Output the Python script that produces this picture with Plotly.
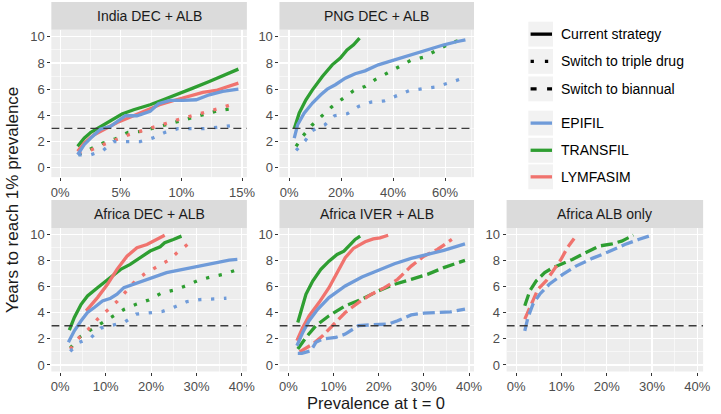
import plotly.graph_objects as go

# ---------------- DATA ----------------
# India DEC + ALB
india_epifil_cur_x = [0.0144, 0.0198, 0.0266, 0.0334, 0.0416, 0.047, 0.0538, 0.0633, 0.0742, 0.081, 0.0905, 0.1014, 0.1122, 0.123, 0.134, 0.147]
india_epifil_cur_y = [0.99, 1.76, 2.39, 2.95, 3.16, 3.54, 3.97, 3.97, 4.30, 4.89, 5.14, 5.14, 5.19, 5.57, 5.83, 6.01]
india_transfil_cur_x = [0.0144, 0.0198, 0.0253, 0.0334, 0.0416, 0.051, 0.0606, 0.0742, 0.085, 0.0986, 0.1095, 0.123, 0.137, 0.147]
india_transfil_cur_y = [1.63, 2.26, 2.70, 3.16, 3.59, 4.10, 4.43, 4.81, 5.19, 5.65, 6.08, 6.59, 7.10, 7.53]
india_lymfasim_cur_x = [0.0144, 0.02, 0.028, 0.036, 0.047, 0.058, 0.0688, 0.082, 0.0959, 0.1068, 0.1177, 0.1285, 0.1394, 0.147]
india_lymfasim_cur_y = [1.25, 1.90, 2.52, 2.90, 3.46, 3.87, 4.30, 4.81, 5.19, 5.45, 5.75, 5.90, 6.26, 6.46]
india_epifil_tri_x = [0.015, 0.0253, 0.0353, 0.044, 0.055, 0.066, 0.076, 0.0865, 0.097, 0.108, 0.118, 0.129, 0.140]
india_epifil_tri_y = [0.99, 0.99, 1.32, 2.00, 2.00, 2.00, 2.26, 2.70, 2.98, 2.98, 2.98, 3.08, 3.20]
india_transfil_tri_x = [0.015, 0.0253, 0.0353, 0.0457, 0.056, 0.0666, 0.0772, 0.0878, 0.098, 0.109, 0.119, 0.130, 0.141]
india_transfil_tri_y = [0.99, 1.42, 1.88, 2.21, 2.70, 2.77, 3.03, 3.33, 3.59, 3.84, 4.05, 4.35, 4.50]
india_lymfasim_tri_x = [0.015, 0.0253, 0.0353, 0.0457, 0.056, 0.0666, 0.0772, 0.0878, 0.098, 0.109, 0.119, 0.130, 0.141]
india_lymfasim_tri_y = [1.10, 1.35, 1.76, 2.14, 2.50, 2.80, 3.08, 3.40, 3.70, 3.97, 4.20, 4.50, 4.81]

# PNG DEC + ALB
png_epifil_cur_x = [0.02, 0.033, 0.058, 0.09, 0.122, 0.147, 0.178, 0.216, 0.254, 0.292, 0.343, 0.406, 0.47, 0.533, 0.596, 0.647, 0.678]
png_epifil_cur_y = [2.26, 3.28, 4.17, 4.94, 5.57, 6.00, 6.34, 6.84, 7.18, 7.40, 7.86, 8.24, 8.63, 9.06, 9.39, 9.64, 9.77]
png_transfil_cur_x = [0.02, 0.039, 0.065, 0.09, 0.128, 0.166, 0.197, 0.223, 0.248, 0.271]
png_transfil_cur_y = [2.98, 4.17, 5.19, 5.95, 6.97, 7.86, 8.37, 9.00, 9.39, 9.90]
png_epifil_tri_x = [0.027, 0.062, 0.09, 0.138, 0.175, 0.224, 0.267, 0.315, 0.366, 0.413, 0.461, 0.511, 0.562, 0.611, 0.659]
png_epifil_tri_y = [1.32, 2.06, 2.85, 3.28, 3.97, 4.12, 4.68, 5.01, 5.11, 5.50, 5.88, 6.03, 6.16, 6.46, 6.77]
png_transfil_tri_x = [0.027, 0.054, 0.087, 0.125, 0.163, 0.204, 0.248, 0.292, 0.334, 0.378, 0.423, 0.467, 0.518, 0.562, 0.609, 0.657]
png_transfil_tri_y = [1.63, 2.44, 3.23, 3.92, 4.63, 5.24, 5.88, 6.21, 6.77, 7.23, 7.74, 8.19, 8.45, 8.88, 9.39, 9.77]

# Africa DEC + ALB
afdec_epifil_cur_x = [0.018, 0.031, 0.046, 0.06, 0.075, 0.093, 0.111, 0.125, 0.14, 0.162, 0.183, 0.212, 0.234, 0.27, 0.307, 0.343, 0.372, 0.39]
afdec_epifil_cur_y = [1.73, 2.61, 3.38, 4.01, 4.39, 4.90, 5.10, 5.41, 5.91, 6.17, 6.42, 6.80, 7.06, 7.31, 7.56, 7.82, 8.02, 8.07]
afdec_transfil_cur_x = [0.02, 0.031, 0.046, 0.06, 0.082, 0.096, 0.111, 0.133, 0.154, 0.176, 0.198, 0.22, 0.23, 0.249, 0.267]
afdec_transfil_cur_y = [2.66, 3.63, 4.64, 5.28, 5.91, 6.29, 6.73, 7.31, 7.69, 8.20, 8.71, 9.04, 9.34, 9.59, 9.85]
afdec_lymfasim_cur_x = [0.057, 0.082, 0.104, 0.125, 0.147, 0.169, 0.191, 0.212, 0.23]
afdec_lymfasim_cur_y = [4.14, 5.15, 6.17, 7.31, 8.32, 8.96, 9.21, 9.59, 9.92]
afdec_epifil_tri_x = [0.022, 0.042, 0.067, 0.089, 0.116, 0.143, 0.167, 0.196, 0.225, 0.252, 0.279, 0.308, 0.337, 0.366]
afdec_epifil_tri_y = [1.04, 1.73, 2.06, 2.82, 3.05, 3.30, 3.88, 4.01, 4.09, 4.44, 4.85, 5.00, 5.03, 5.10]
afdec_transfil_tri_x = [0.022, 0.042, 0.066, 0.09, 0.116, 0.141, 0.167, 0.195, 0.222, 0.249, 0.276, 0.304, 0.332, 0.359, 0.388]
afdec_transfil_tri_y = [1.29, 2.10, 2.66, 3.17, 3.76, 4.26, 4.64, 4.97, 5.48, 5.71, 6.04, 6.47, 6.73, 6.93, 7.26]
afdec_lymfasim_tri_x = [0.022, 0.042, 0.062, 0.082, 0.104, 0.125, 0.146, 0.165, 0.187, 0.212, 0.238, 0.259, 0.283]
afdec_lymfasim_tri_y = [1.22, 2.10, 2.74, 3.50, 4.19, 4.85, 5.66, 6.42, 7.00, 7.49, 8.00, 8.63, 9.29]

# Africa IVER + ALB
afiver_epifil_cur_x = [0.019, 0.032, 0.046, 0.065, 0.09, 0.126, 0.163, 0.199, 0.235, 0.272, 0.308, 0.344, 0.391]
afiver_epifil_cur_y = [1.47, 2.49, 3.38, 4.26, 5.15, 6.04, 6.73, 7.23, 7.74, 8.15, 8.45, 8.76, 9.26]
afiver_transfil_cur_x = [0.021, 0.028, 0.039, 0.054, 0.072, 0.09, 0.108, 0.123, 0.134, 0.148, 0.159]
afiver_transfil_cur_y = [3.25, 4.14, 5.40, 6.42, 7.31, 7.94, 8.45, 8.70, 9.09, 9.60, 9.85]
afiver_lymfasim_cur_x = [0.019, 0.032, 0.046, 0.068, 0.09, 0.108, 0.126, 0.144, 0.17, 0.188, 0.203, 0.221]
afiver_lymfasim_cur_y = [1.85, 2.87, 3.76, 4.77, 5.91, 7.06, 8.20, 8.91, 9.42, 9.64, 9.72, 9.92]
afiver_epifil_bi_x = [0.021, 0.03, 0.05, 0.061, 0.076, 0.105, 0.126, 0.155, 0.184, 0.221, 0.242, 0.272, 0.30, 0.33, 0.359, 0.391]
afiver_epifil_bi_y = [0.89, 0.89, 1.09, 1.73, 1.98, 2.10, 2.36, 3.00, 3.07, 3.12, 3.38, 3.83, 3.96, 3.98, 4.06, 4.26]
afiver_transfil_bi_x = [0.021, 0.039, 0.061, 0.09, 0.126, 0.163, 0.199, 0.235, 0.272, 0.308, 0.344, 0.391]
afiver_transfil_bi_y = [1.22, 2.10, 3.00, 3.76, 4.52, 5.03, 5.66, 6.17, 6.55, 6.93, 7.44, 8.00]
afiver_lymfasim_bi_x = [0.025, 0.036, 0.054, 0.076, 0.097, 0.126, 0.155, 0.184, 0.213, 0.242, 0.272, 0.30, 0.33, 0.362]
afiver_lymfasim_bi_y = [1.00, 1.22, 1.60, 2.23, 3.00, 4.01, 4.77, 5.41, 5.91, 6.55, 7.56, 8.32, 8.83, 9.60]

# Africa ALB only
afalb_epifil_bi_x = [0.019, 0.026, 0.037, 0.052, 0.073, 0.103, 0.132, 0.168, 0.204, 0.24, 0.27, 0.299]
afalb_epifil_bi_y = [2.61, 3.63, 4.64, 5.41, 6.17, 6.93, 7.56, 8.15, 8.65, 9.21, 9.59, 9.92]
afalb_transfil_bi_x = [0.019, 0.03, 0.044, 0.063, 0.081, 0.099, 0.124, 0.153, 0.183, 0.212, 0.233, 0.259]
afalb_transfil_bi_y = [4.52, 5.66, 6.42, 7.06, 7.44, 7.69, 8.07, 8.58, 9.09, 9.26, 9.47, 9.92]
afalb_lymfasim_bi_x = [0.019, 0.033, 0.048, 0.066, 0.081, 0.099, 0.113, 0.128]
afalb_lymfasim_bi_y = [3.50, 4.64, 5.79, 6.42, 7.18, 8.07, 8.96, 9.67]

panel_titles = ["India DEC + ALB", "PNG DEC + ALB", "Africa DEC + ALB", "Africa IVER + ALB", "Africa ALB only"]
threshold_years = 3
y_ticks = [0, 2, 4, 6, 8, 10]
x_ticks_india = [0, 0.05, 0.10, 0.15]
x_ticks_png = [0, 0.2, 0.4, 0.6]
x_ticks_africa = [0, 0.1, 0.2, 0.3, 0.4]
strategy_labels = ["Current strategy", "Switch to triple drug", "Switch to biannual"]
model_labels = ["EPIFIL", "TRANSFIL", "LYMFASIM"]

# ---------------- STYLE ----------------
W, H = 721, 414
BLUE, GREEN, RED = "#6F9BD9", "#2E9E31", "#F0736E"
PANEL_BG, STRIP_BG = "#EDEDED", "#DBDBDB"
FONT = "Liberation Sans, Arial, sans-serif"
LW = 3.3
DASH = {"cur": "solid", "tri": "3.3px,9.6px", "bi": "12px,5px"}
COLOR = {"epifil": BLUE, "transfil": GREEN, "lymfasim": RED}


def fx(p):
    return p / W


def fy(p):
    return 1 - p / H


# panel pixel geometry: (left, right, top(plot), bottom(plot))
geom = {
    1: (52, 250, 29, 177),
    2: (283, 480, 29, 177),
    3: (52, 250, 228, 372.3),
    4: (283, 480, 228, 372.3),
    5: (513, 712, 228, 372.3),
}
xranges = {1: [-0.0073, 0.154], 2: [-0.0368, 0.711], 3: [-0.0196, 0.411], 4: [-0.0196, 0.411], 5: [-0.0212, 0.413]}
yr_top, yr_bot = [-0.72, 10.53], [-0.5, 10.48]
xticks = {1: x_ticks_india, 2: x_ticks_png, 3: x_ticks_africa, 4: x_ticks_africa, 5: x_ticks_africa}
xminor = {1: [0.025, 0.075, 0.125], 2: [0.1, 0.3, 0.5, 0.7], 3: [0.05, 0.15, 0.25, 0.35],
          4: [0.05, 0.15, 0.25, 0.35], 5: [0.05, 0.15, 0.25, 0.35]}

series = [
    # panel, model, strategy, x, y
    (1, "transfil", "tri", india_transfil_tri_x, india_transfil_tri_y),
    (1, "lymfasim", "tri", india_lymfasim_tri_x, india_lymfasim_tri_y),
    (1, "epifil", "tri", india_epifil_tri_x, india_epifil_tri_y),
    (1, "transfil", "cur", india_transfil_cur_x, india_transfil_cur_y),
    (1, "lymfasim", "cur", india_lymfasim_cur_x, india_lymfasim_cur_y),
    (1, "epifil", "cur", india_epifil_cur_x, india_epifil_cur_y),
    (2, "transfil", "tri", png_transfil_tri_x, png_transfil_tri_y),
    (2, "epifil", "tri", png_epifil_tri_x, png_epifil_tri_y),
    (2, "transfil", "cur", png_transfil_cur_x, png_transfil_cur_y),
    (2, "epifil", "cur", png_epifil_cur_x, png_epifil_cur_y),
    (3, "transfil", "tri", afdec_transfil_tri_x, afdec_transfil_tri_y),
    (3, "lymfasim", "tri", afdec_lymfasim_tri_x, afdec_lymfasim_tri_y),
    (3, "epifil", "tri", afdec_epifil_tri_x, afdec_epifil_tri_y),
    (3, "transfil", "cur", afdec_transfil_cur_x, afdec_transfil_cur_y),
    (3, "lymfasim", "cur", afdec_lymfasim_cur_x, afdec_lymfasim_cur_y),
    (3, "epifil", "cur", afdec_epifil_cur_x, afdec_epifil_cur_y),
    (4, "transfil", "bi", afiver_transfil_bi_x, afiver_transfil_bi_y),
    (4, "lymfasim", "bi", afiver_lymfasim_bi_x, afiver_lymfasim_bi_y),
    (4, "epifil", "bi", afiver_epifil_bi_x, afiver_epifil_bi_y),
    (4, "transfil", "cur", afiver_transfil_cur_x, afiver_transfil_cur_y),
    (4, "lymfasim", "cur", afiver_lymfasim_cur_x, afiver_lymfasim_cur_y),
    (4, "epifil", "cur", afiver_epifil_cur_x, afiver_epifil_cur_y),
    (5, "transfil", "bi", afalb_transfil_bi_x, afalb_transfil_bi_y),
    (5, "lymfasim", "bi", afalb_lymfasim_bi_x, afalb_lymfasim_bi_y),
    (5, "epifil", "bi", afalb_epifil_bi_x, afalb_epifil_bi_y),
]

fig = go.Figure()


def ax(n, kind):
    return kind if n == 1 else f"{kind}{n}"


for n, model, strat, xs, ys in series:
    fig.add_trace(go.Scatter(
        x=xs, y=ys, mode="lines", showlegend=False, hoverinfo="skip",
        line=dict(color=COLOR[model], width=LW, dash=DASH[strat]),
        xaxis=ax(n, "x"), yaxis=ax(n, "y"),
    ))

shapes = []
annotations = []
layout = dict(
    width=W, height=H, autosize=False,
    margin=dict(l=0, r=0, t=0, b=0),
    paper_bgcolor="white", plot_bgcolor=PANEL_BG,
    font=dict(family=FONT),
)

for n in range(1, 6):
    l, r, t, b = geom[n]
    xkey = "xaxis" if n == 1 else f"xaxis{n}"
    ykey = "yaxis" if n == 1 else f"yaxis{n}"
    layout[xkey] = dict(
        domain=[fx(l), fx(r)], range=xranges[n], anchor=ax(n, "y"),
        tickvals=xticks[n], tickformat=".0%",
        showgrid=True, gridcolor="white", gridwidth=1.1, zeroline=False, showline=False,
        ticks="outside", ticklen=3, tickwidth=1, tickcolor="#333333",
        tickfont=dict(size=13, color="#4D4D4D", family=FONT),
        minor=dict(tickvals=xminor[n], showgrid=True, gridcolor="white", gridwidth=0.55, ticks=""),
    )
    layout[ykey] = dict(
        domain=[fy(b), fy(t)], range=yr_top if n <= 2 else yr_bot, anchor=ax(n, "x"),
        tickvals=y_ticks,
        showgrid=True, gridcolor="white", gridwidth=1.1, zeroline=False, showline=False,
        ticks="outside", ticklen=3, tickwidth=1, tickcolor="#333333",
        tickfont=dict(size=13, color="#4D4D4D", family=FONT),
        minor=dict(tickvals=[1, 3, 5, 7, 9], showgrid=True, gridcolor="white", gridwidth=0.55, ticks=""),
    )
    # threshold line at 3 years
    shapes.append(dict(
        type="line", xref=ax(n, "x"), yref=ax(n, "y"),
        x0=xranges[n][0], x1=xranges[n][1], y0=threshold_years, y1=threshold_years,
        line=dict(color="#3A3A3A", width=1.3, dash="8px,5px"),
    ))
    # strip
    st = t - 28
    shapes.append(dict(
        type="rect", xref="paper", yref="paper", x0=fx(l), x1=fx(r), y0=fy(t), y1=fy(st),
        fillcolor=STRIP_BG, line=dict(width=0),
    ))
    annotations.append(dict(
        text=panel_titles[n - 1], xref="paper", yref="paper",
        x=fx((l + r) / 2), y=fy((st + t) / 2), showarrow=False,
        xanchor="center", yanchor="middle",
        font=dict(size=14, color="#1A1A1A", family=FONT),
    ))

# axis titles
annotations.append(dict(
    text="Prevalence at t = 0", xref="paper", yref="paper", x=fx(381), y=fy(404),
    showarrow=False, xanchor="center", yanchor="middle",
    font=dict(size=16.5, color="#1A1A1A", family=FONT),
))
annotations.append(dict(
    text="Years to reach 1% prevalence", xref="paper", yref="paper", x=fx(12), y=fy(200),
    showarrow=False, xanchor="center", yanchor="middle", textangle=-90,
    font=dict(size=17, color="#1A1A1A", family=FONT),
))

# legend (manual)
leg_rows = [
    (33.3, strategy_labels[0], "black", "solid"),
    (60.7, strategy_labels[1], "black", "3.3px,11px"),
    (88.3, strategy_labels[2], "black", "6px,10.5px"),
    (122.7, model_labels[0], BLUE, "solid"),
    (150.0, model_labels[1], GREEN, "solid"),
    (176.7, model_labels[2], RED, "solid"),
]
for yc, label, col, dash in leg_rows:
    shapes.append(dict(
        type="rect", xref="paper", yref="paper", x0=fx(535), x1=fx(560),
        y0=fy(yc + 12.5), y1=fy(yc - 12.5), fillcolor="#F2F2F2", line=dict(width=0),
    ))
    shapes.append(dict(
        type="line", xref="paper", yref="paper", x0=fx(537.3), x1=fx(559),
        y0=fy(yc), y1=fy(yc), line=dict(color=col, width=LW, dash=dash),
    ))
    annotations.append(dict(
        text=label, xref="paper", yref="paper", x=fx(566), y=fy(yc),
        showarrow=False, xanchor="left", yanchor="middle",
        font=dict(size=14, color="black", family=FONT),
    ))

layout["shapes"] = shapes
layout["annotations"] = annotations
fig.update_layout(**layout)
fig.write_html(
    "out.html",
    config={"displayModeBar": False, "staticPlot": True},
    post_script="document.body.style.margin='0';document.body.style.padding='0';document.body.style.overflow='hidden';",
)
